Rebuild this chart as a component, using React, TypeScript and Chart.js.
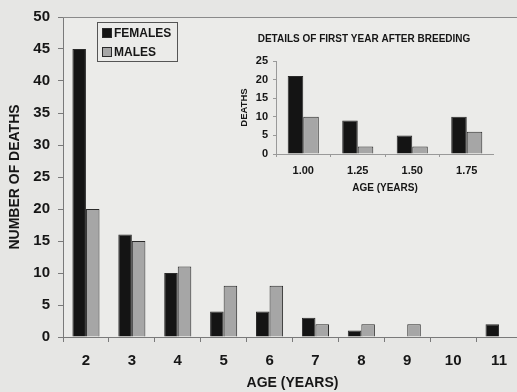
import React, { useEffect, useRef } from "react";
import { Chart, registerables } from "chart.js";

Chart.register(...registerables);

const ageLabels = ["2", "3", "4", "5", "6", "7", "8", "9", "10", "11"];
const femaleDeaths = [45, 16, 10, 4, 4, 3, 1, 0, 0, 2];
const maleDeaths = [20, 15, 11, 8, 8, 2, 2, 2, 0, 0];

const insetLabels = ["1.00", "1.25", "1.50", "1.75"];
const insetFemaleDeaths = [21, 9, 5, 10];
const insetMaleDeaths = [10, 2, 2, 6];

const FONT = "'Liberation Sans', Arial, Helvetica, sans-serif";
const BG = "#e6e6e4";
const PLOT_BG = "#ebebe9";
const FEMALE_COLOR = "#141414";
const MALE_COLOR = "#a6a6a6";
const EDGE = "#2a2a2a";
const AXIS = "#7a7a7a";
const TEXT = "#161616";

const plotBgPlugin = {
  id: "plotBg",
  beforeDraw(chart: any) {
    const { ctx, chartArea } = chart;
    ctx.save();
    ctx.fillStyle = PLOT_BG;
    ctx.fillRect(chartArea.left, chartArea.top, chartArea.right - chartArea.left, chartArea.bottom - chartArea.top);
    ctx.restore();
  },
};

const topLinePlugin = {
  id: "topLine",
  afterDraw(chart: any) {
    const { ctx, chartArea } = chart;
    ctx.save();
    ctx.strokeStyle = "#8a8a8a";
    ctx.lineWidth = 1;
    ctx.beginPath();
    ctx.moveTo(chartArea.left, chartArea.top + 0.5);
    ctx.lineTo(chartArea.right, chartArea.top + 0.5);
    ctx.stroke();
    ctx.restore();
  },
};

const boxLegendPlugin = {
  id: "boxLegend",
  afterDraw(chart: any) {
    const { ctx } = chart;
    const x = 97;
    const y = 22;
    const w = 80;
    const h = 39;
    ctx.save();
    ctx.fillStyle = PLOT_BG;
    ctx.fillRect(x, y, w, h);
    ctx.strokeStyle = "#555";
    ctx.lineWidth = 1;
    ctx.strokeRect(x + 0.5, y + 0.5, w, h);
    chart.data.datasets.forEach((ds: any, i: number) => {
      const ry = y + 6 + i * 19;
      ctx.fillStyle = ds.backgroundColor;
      ctx.fillRect(102, ry, 10, 10);
      ctx.strokeStyle = EDGE;
      ctx.strokeRect(102.5, ry + 0.5, 9, 9);
      ctx.fillStyle = TEXT;
      ctx.font = `bold 12px ${FONT}`;
      ctx.textBaseline = "middle";
      ctx.textAlign = "left";
      ctx.fillText(ds.label, 114, ry + 5.5);
    });
    ctx.restore();
  },
};

export default function App() {
  const mainRef = useRef<HTMLCanvasElement>(null);
  const insetRef = useRef<HTMLCanvasElement>(null);

  useEffect(() => {
    document.body.style.margin = "0";
    const main = new Chart(mainRef.current as HTMLCanvasElement, {
      type: "bar",
      data: {
        labels: ageLabels,
        datasets: [
          {
            label: "FEMALES",
            data: femaleDeaths,
            backgroundColor: FEMALE_COLOR,
            borderColor: EDGE,
            borderWidth: 1,
            categoryPercentage: 0.59,
            barPercentage: 1,
          },
          {
            label: "MALES",
            data: maleDeaths,
            backgroundColor: MALE_COLOR,
            borderColor: EDGE,
            borderWidth: 1,
            categoryPercentage: 0.59,
            barPercentage: 1,
          },
        ],
      },
      options: {
        responsive: false,
        animation: false,
        layout: { padding: { left: 0, top: 15, right: 8, bottom: 0 } },
        plugins: { legend: { display: false }, tooltip: { enabled: false } },
        scales: {
          x: {
            grid: {
              display: true,
              drawOnChartArea: false,
              drawTicks: true,
              tickLength: 5,
              color: AXIS,
              offset: true,
            },
            border: { display: true, color: AXIS, width: 1 },
            ticks: {
              color: TEXT,
              font: { family: FONT, size: 15, weight: "bold" },
              padding: 10,
              maxRotation: 0,
            },
            title: {
              display: true,
              text: "AGE (YEARS)",
              color: TEXT,
              font: { family: FONT, size: 14, weight: "bold" },
              padding: { top: 0, bottom: 0 },
            },
            afterFit: (s: any) => {
              s.height = 55;
            },
          },
          y: {
            min: 0,
            max: 50,
            grid: {
              display: true,
              drawOnChartArea: false,
              drawTicks: true,
              tickLength: 5,
              color: AXIS,
            },
            border: { display: true, color: AXIS, width: 1 },
            ticks: {
              stepSize: 5,
              color: TEXT,
              font: { family: FONT, size: 15, weight: "bold" },
              padding: 8,
            },
            title: {
              display: true,
              text: "NUMBER OF DEATHS",
              color: TEXT,
              font: { family: FONT, size: 14, weight: "bold" },
              padding: { top: 7, bottom: 0 },
            },
            afterFit: (s: any) => {
              s.width = 63;
            },
          },
        },
      },
      plugins: [plotBgPlugin, topLinePlugin, boxLegendPlugin],
    } as any);

    const inset = new Chart(insetRef.current as HTMLCanvasElement, {
      type: "bar",
      data: {
        labels: insetLabels,
        datasets: [
          {
            label: "FEMALES",
            data: insetFemaleDeaths,
            backgroundColor: FEMALE_COLOR,
            borderColor: EDGE,
            borderWidth: 1,
            categoryPercentage: 0.57,
            barPercentage: 1,
          },
          {
            label: "MALES",
            data: insetMaleDeaths,
            backgroundColor: MALE_COLOR,
            borderColor: EDGE,
            borderWidth: 1,
            categoryPercentage: 0.57,
            barPercentage: 1,
          },
        ],
      },
      options: {
        responsive: false,
        animation: false,
        layout: { padding: 0 },
        plugins: {
          legend: { display: false },
          tooltip: { enabled: false },
          title: {
            display: true,
            text: "DETAILS OF FIRST YEAR AFTER BREEDING",
            color: TEXT,
            font: { family: FONT, size: 10, weight: "bold" },
            padding: { top: 8, bottom: 16 },
          },
        },
        scales: {
          x: {
            grid: {
              display: true,
              drawOnChartArea: false,
              drawTicks: true,
              tickLength: 3,
              color: "#999",
              offset: true,
            },
            border: { display: true, color: "#999", width: 1 },
            ticks: {
              color: TEXT,
              font: { family: FONT, size: 11, weight: "bold" },
              padding: 7,
              maxRotation: 0,
            },
            title: {
              display: true,
              text: "AGE (YEARS)",
              color: TEXT,
              font: { family: FONT, size: 10, weight: "bold" },
              padding: { top: 0, bottom: 6 },
            },
            afterFit: (s: any) => {
              s.height = 46;
            },
          },
          y: {
            min: 0,
            max: 25,
            grid: {
              display: true,
              drawOnChartArea: false,
              drawTicks: true,
              tickLength: 3,
              color: "#999",
            },
            border: { display: true, color: "#999", width: 1 },
            ticks: {
              stepSize: 5,
              color: TEXT,
              font: { family: FONT, size: 11, weight: "bold" },
              padding: 5,
            },
            title: {
              display: true,
              text: "DEATHS",
              color: TEXT,
              font: { family: FONT, size: 9.5, weight: "bold" },
              padding: { top: 5, bottom: 0 },
            },
            afterFit: (s: any) => {
              s.width = 42;
            },
          },
        },
      },
    } as any);

    return () => {
      main.destroy();
      inset.destroy();
    };
  }, []);

  return (
    <div
      style={{
        position: "fixed",
        left: 0,
        top: 0,
        width: 517,
        height: 392,
        overflow: "hidden",
        background: BG,
      }}
    >
      <canvas
        ref={mainRef}
        width={530}
        height={392}
        style={{ position: "absolute", left: 0, top: 0, width: 530, height: 392 }}
      />
      <canvas
        ref={insetRef}
        width={260}
        height={175}
        style={{ position: "absolute", left: 234, top: 25, width: 260, height: 175 }}
      />
    </div>
  );
}
